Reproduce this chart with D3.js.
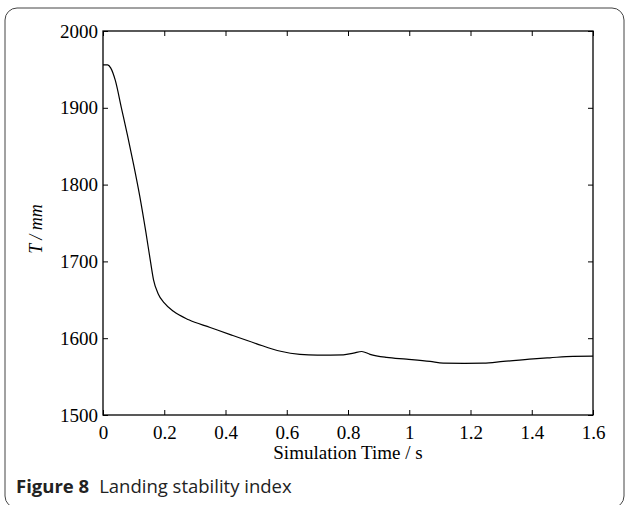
<!DOCTYPE html>
<html>
<head>
<meta charset="utf-8">
<script src="https://cdn.jsdelivr.net/npm/d3@7"></script>
<style>
  body { margin: 0; background: #fff; }
  svg { display: block; }
</style>
</head>
<body>
<div id="chart"></div>
<script>
// Data
const timeValues = [0, 0.015, 0.025, 0.04, 0.06, 0.08, 0.1, 0.12, 0.14, 0.155, 0.165, 0.18, 0.2, 0.23, 0.28, 0.35, 0.42, 0.5, 0.58, 0.643, 0.7, 0.785, 0.818, 0.845, 0.872, 0.926, 0.991, 1.068, 1.111, 1.18, 1.242, 1.307, 1.405, 1.459, 1.535, 1.6];
const stabilityValues = [1956, 1956, 1952, 1936, 1900, 1864, 1826, 1785, 1738, 1700, 1676, 1658, 1646, 1635, 1624, 1614, 1604, 1593, 1583, 1579, 1578, 1578.4, 1580.5, 1582.7, 1579, 1575, 1572.7, 1569.7, 1567.5, 1567.3, 1567.5, 1569.7, 1573, 1574.5, 1576.4, 1576.6];
const xTicks = [0, 0.2, 0.4, 0.6, 0.8, 1, 1.2, 1.4, 1.6];
const yTicks = [1500, 1600, 1700, 1800, 1900, 2000];

const drawChart = () => {

  // Dimensions
  const width = 625;
  const height = 505;
  const left = 103, right = 593, top = 31, bottom = 415;

  const svg = d3.select("#chart")
    .append("svg")
      .attr("width", width)
      .attr("height", height);

  // rounded frame around the figure (bottom edge falls just off the page)
  svg.append("rect")
    .attr("x", 5)
    .attr("y", 8)
    .attr("width", 619)
    .attr("height", 500)
    .attr("rx", 12)
    .attr("fill", "none")
    .attr("stroke", "#444")
    .attr("stroke-width", 1);

  const x = d3.scaleLinear().domain([0, 1.6]).range([left, right]);
  const y = d3.scaleLinear().domain([1500, 2000]).range([bottom, top]);

  const serif = "'Liberation Serif', 'Times New Roman', serif";

  const styleAxis = g => {
    g.select(".domain").remove();
    g.selectAll(".tick line").attr("stroke", "#000").attr("stroke-width", 1);
    g.selectAll(".tick text")
      .attr("fill", "#000")
      .style("font-family", serif)
      .style("font-size", "19px");
  };

  svg.append("g")
    .attr("transform", `translate(0,${bottom})`)
    .call(d3.axisBottom(x).tickValues(xTicks).tickSize(-5).tickPadding(11).tickFormat(d3.format("")))
    .call(styleAxis);

  svg.append("g")
    .attr("transform", `translate(0,${top})`)
    .call(d3.axisTop(x).tickValues(xTicks).tickSize(-5).tickFormat(""))
    .call(styleAxis);

  svg.append("g")
    .attr("transform", `translate(${left},0)`)
    .call(d3.axisLeft(y).tickValues(yTicks).tickSize(-5).tickPadding(5).tickFormat(d3.format("d")))
    .call(styleAxis);

  svg.append("g")
    .attr("transform", `translate(${right},0)`)
    .call(d3.axisRight(y).tickValues(yTicks).tickSize(-5).tickFormat(""))
    .call(styleAxis);

  // plot box
  svg.append("rect")
    .attr("x", left)
    .attr("y", top)
    .attr("width", right - left)
    .attr("height", bottom - top)
    .attr("fill", "none")
    .attr("stroke", "#000")
    .attr("stroke-width", 1.3);

  // the curve
  const line = d3.line()
    .x((d, i) => x(timeValues[i]))
    .y(d => y(d))
    .curve(d3.curveMonotoneX);

  svg.append("path")
    .datum(stabilityValues)
    .attr("d", line)
    .attr("fill", "none")
    .attr("stroke", "#000")
    .attr("stroke-width", 1.2);

  // axis titles
  svg.append("text")
    .attr("x", (left + right) / 2)
    .attr("y", 459)
    .attr("text-anchor", "middle")
    .style("font-family", serif)
    .style("font-size", "19px")
    .text("Simulation Time / s");

  svg.append("text")
    .attr("transform", `translate(42,229) rotate(-90)`)
    .attr("text-anchor", "middle")
    .style("font-family", serif)
    .style("font-size", "18px")
    .style("font-style", "italic")
    .text("T / mm");

  // caption
  const caption = svg.append("text")
    .attr("x", 16)
    .attr("y", 493)
    .style("font-family", "'Open Sans', 'Noto Sans', sans-serif")
    .style("font-size", "18.5px")
    .attr("fill", "#222");
  caption.append("tspan").style("font-weight", 700).text("Figure 8");
  caption.append("tspan").attr("dx", 10).text("Landing stability index");

};

drawChart();
</script>
</body>
</html>
